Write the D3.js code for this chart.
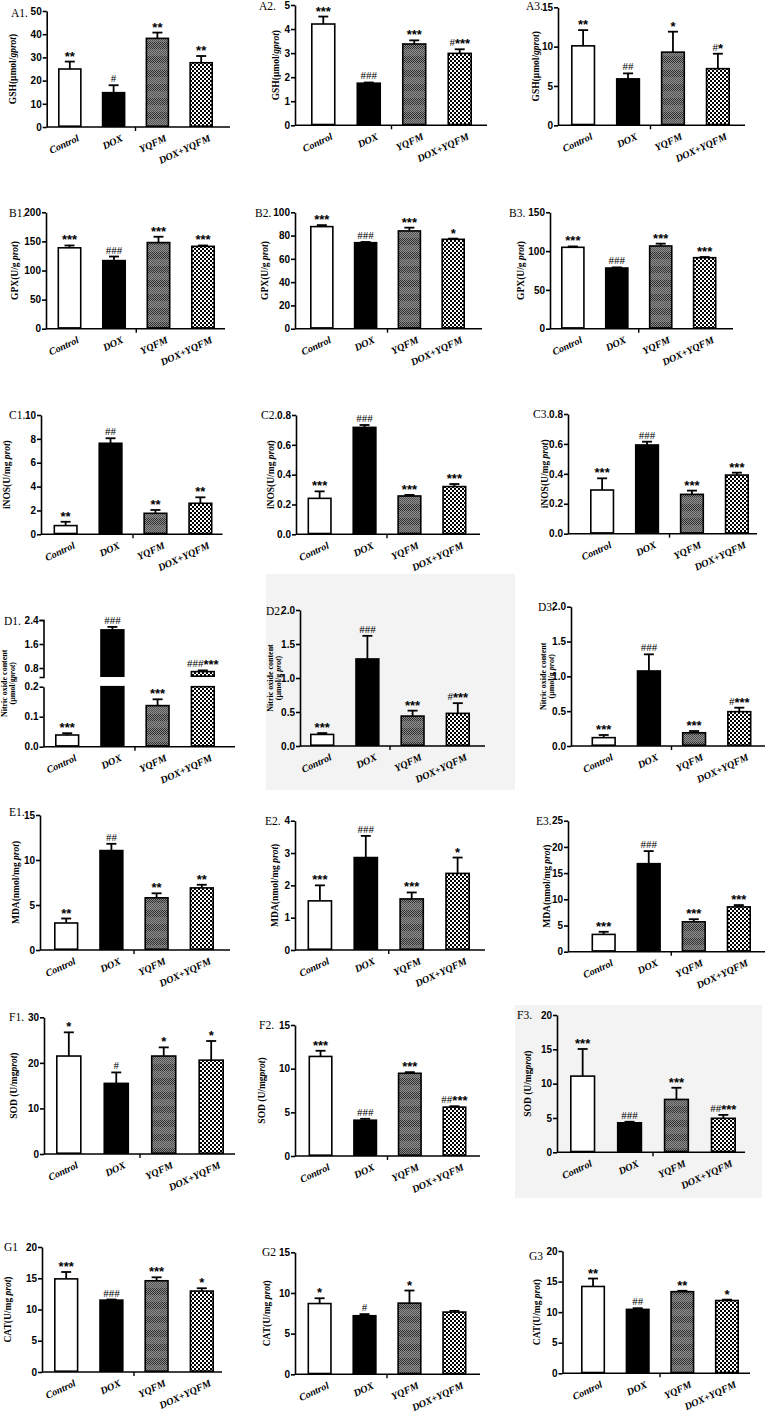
<!DOCTYPE html>
<html><head><meta charset="utf-8">
<script src="https://cdn.jsdelivr.net/npm/d3@7"></script>
<style>body{margin:0;background:#fff} svg{display:block}</style>
</head><body><svg id="c" width="781" height="1412"></svg>
<script>
// ---------- DATA ----------
const categories = ["Control", "DOX", "YQFM", "DOX+YQFM"];

const gshMean = [[25.0, 14.8, 38.2, 27.7], [4.21, 1.75, 3.38, 2.99], [10.1, 5.9, 9.3, 7.2]];
const gshErr  = [[28.2, 18.0, 40.7, 30.6], [4.52, 1.78, 3.53, 3.16], [12.1, 6.6, 11.9, 9.1]];
const gshSig  = [["**", "#", "**", "**"], ["***", "###", "***", "#***"], ["**", "##", "*", "#*"]];
const gshTicks = [[0, 10, 20, 30, 40, 50], [0, 1, 2, 3, 4, 5], [0, 5, 10, 15]];

const gpxMean = [[139, 117, 148, 141.5], [87.7, 73.9, 84, 76.8], [104.9, 78.2, 106.6, 91.5]];
const gpxErr  = [[143, 124, 158, 143], [89, 74.5, 86.8, 77.4], [106, 79, 109.6, 92.4]];
const gpxSig  = [["***", "###", "***", "***"], ["***", "###", "***", "*"], ["***", "###", "***", "***"]];
const gpxTicks = [[0, 50, 100, 150, 200], [0, 20, 40, 60, 80, 100], [0, 50, 100, 150]];

const inosMean = [[0.73, 7.63, 1.76, 2.6], [0.241, 0.717, 0.257, 0.32], [0.292, 0.593, 0.263, 0.392]];
const inosErr  = [[1.05, 8.05, 2.04, 3.1], [0.288, 0.733, 0.264, 0.337], [0.37, 0.615, 0.288, 0.408]];
const inosSig  = [["**", "##", "**", "**"], ["***", "###", "***", "***"], ["***", "###", "***", "***"]];
const inosTicks = [[0, 2, 4, 6, 8, 10], [0, 0.2, 0.4, 0.6, 0.8], [0, 0.2, 0.4, 0.6, 0.8]];

const noMean = [[0.039, 2.07, 0.137, 0.68], [0.17, 1.28, 0.44, 0.48], [0.12, 1.077, 0.19, 0.493]];
const noErr  = [[0.045, 2.17, 0.158, 0.72], [0.19, 1.62, 0.52, 0.63], [0.158, 1.316, 0.215, 0.55]];
const noSig  = [["***", "###", "***", "###***"], ["***", "###", "***", "#***"], ["***", "###", "***", "#***"]];
const noTicks = [[0, 0.1, 0.2, 0.8, 1.6, 2.4], [0, 0.5, 1.0, 1.5, 2.0], [0, 0.5, 1.0, 1.5, 2.0]];
const noBreak = [0.2, 0.5]; // broken axis gap in D1

const mdaMean = [[3.0, 11.05, 5.8, 6.9], [1.52, 2.86, 1.58, 2.37], [3.3, 16.8, 5.7, 8.55]];
const mdaErr  = [[3.5, 11.8, 6.3, 7.25], [2.0, 3.53, 1.78, 2.86], [3.8, 19.2, 6.2, 8.9]];
const mdaSig  = [["**", "##", "**", "**"], ["***", "###", "***", "*"], ["***", "###", "***", "***"]];
const mdaTicks = [[0, 5, 10, 15], [0, 1, 2, 3, 4], [0, 5, 10, 15, 20, 25]];

const sodMean = [[21.5, 15.5, 21.5, 20.6], [11.4, 4.1, 9.47, 5.6], [11.1, 4.3, 7.7, 4.95]];
const sodErr  = [[26.7, 17.9, 23.4, 24.8], [12.05, 4.26, 9.6, 5.7], [15.05, 4.45, 9.4, 5.45]];
const sodSig  = [["*", "#", "*", "*"], ["***", "###", "***", "##***"], ["***", "###", "***", "##***"]];
const sodTicks = [[0, 10, 20, 30], [0, 5, 10, 15], [0, 5, 10, 15, 20]];

const catMean = [[14.9, 11.5, 14.6, 12.95], [8.7, 7.2, 8.75, 7.65], [14.2, 10.45, 13.35, 11.9]];
const catErr  = [[16.0, 11.6, 15.15, 13.4], [9.35, 7.4, 10.3, 7.8], [15.5, 10.65, 13.5, 12.05]];
const catSig  = [["***", "###", "***", "*"], ["*", "#", "*", ""], ["**", "##", "**", "*"]];
const catTicks = [[0, 5, 10, 15, 20], [0, 5, 10, 15], [0, 5, 10, 15, 20]];

const panelNames = [["A1.", "A2.", "A3."], ["B1.", "B2.", "B3."], ["C1.", "C2.", "C3."],
  ["D1.", "D2.", "D3."], ["E1.", "E2.", "E3."], ["F1.", "F2.", "F3."], ["G1", "G2", "G3"]];

// y titles: [text, italic] segments, one list per line
const gshTitle = [[["GSH(μmol/", 0], ["gprot", 1], [")", 0]]];
const gpxTitle = [[["GPX(U/g ", 0], ["prot", 1], [")", 0]]];
const inosTitle = [[["iNOS(U/mg ", 0], ["prot", 1], [")", 0]]];
const noTitle1 = [[["Nitric oxide content", 0]], [["(μmol/g", 0], ["prot", 1], [")", 0]]];
const noTitle2 = [[["Nitric oxide content", 0]], [["(μmol/g ", 0], ["prot", 1], [")", 0]]];
const mdaTitle = [[["MDA(nmol/mg ", 0], ["prot", 1], [")", 0]]];
const sodTitle = [[["SOD (U/mg", 0], ["prot", 1], [")", 0]]];
const catTitle = [[["CAT(U/mg ", 0], ["prot", 1], [")", 0]]];

const measures = [
  {mean: gshMean, err: gshErr, sig: gshSig, ticks: gshTicks, titles: [gshTitle, gshTitle, gshTitle]},
  {mean: gpxMean, err: gpxErr, sig: gpxSig, ticks: gpxTicks, titles: [gpxTitle, gpxTitle, gpxTitle]},
  {mean: inosMean, err: inosErr, sig: inosSig, ticks: inosTicks, titles: [inosTitle, inosTitle, inosTitle]},
  {mean: noMean, err: noErr, sig: noSig, ticks: noTicks, titles: [noTitle1, noTitle2, noTitle2]},
  {mean: mdaMean, err: mdaErr, sig: mdaSig, ticks: mdaTicks, titles: [mdaTitle, mdaTitle, mdaTitle]},
  {mean: sodMean, err: sodErr, sig: sodSig, ticks: sodTicks, titles: [sodTitle, sodTitle, sodTitle]},
  {mean: catMean, err: catErr, sig: catSig, ticks: catTicks, titles: [catTitle, catTitle, catTitle]}
];

// ---------- LAYOUT (pixels) ----------
// L: y-axis x, R: x-axis end, b: bar span, yt: pixel of top tick, y0: pixel of zero,
// lx, ly: panel label, tx: y-title centre x
const layout = [
  [{L: 46.7, R: 230, b: [58, 213], yt: 11, y0: 127, lx: 11, ly: 17, tx: 13},
   {L: 295, R: 487, b: [311, 472], yt: 5, y0: 125.3, lx: 259, ly: 10, tx: 276},
   {L: 558, R: 745, b: [571, 730], yt: 7.3, y0: 125.3, lx: 526, ly: 10, tx: 536}],
  [{L: 46, R: 225, b: [57.5, 215], yt: 212.3, y0: 328.7, lx: 9, ly: 217, tx: 15},
   {L: 295, R: 482, b: [310, 465], yt: 212.3, y0: 328.7, lx: 255, ly: 217, tx: 265},
   {L: 550, R: 733, b: [561, 716.5], yt: 212.3, y0: 328.7, lx: 509, ly: 217, tx: 521}],
  [{L: 41, R: 222.5, b: [53.5, 212.5], yt: 415, y0: 534.3, lx: 9, ly: 419, tx: 7},
   {L: 296, R: 480, b: [307.5, 466.5], yt: 415, y0: 534.3, lx: 261, ly: 419, tx: 271},
   {L: 568, R: 757, b: [590, 749], yt: 414, y0: 533.7, lx: 533, ly: 418, tx: 545}],
  [{L: 43.5, R: 235, b: [55, 215], yt: 620, y0: 746.7, lx: 4, ly: 625, tx: 8, brk: [677, 686.7]},
   {L: 300, R: 485, b: [310, 470], yt: 610, y0: 746, lx: 266, ly: 615, tx: 274, bg: [266, 574, 249, 216]},
   {L: 571, R: 765, b: [591.5, 751.5], yt: 606.7, y0: 746, lx: 538, ly: 611, tx: 547}],
  [{L: 40, R: 230, b: [54, 214], yt: 815, y0: 950, lx: 9, ly: 816, tx: 16},
   {L: 295, R: 485, b: [307.5, 470], yt: 820.7, y0: 950, lx: 265, ly: 825, tx: 275},
   {L: 568, R: 765, b: [591.5, 751], yt: 820.7, y0: 951.7, lx: 536, ly: 825, tx: 547}],
  [{L: 44, R: 235, b: [56, 224], yt: 1017.3, y0: 1154, lx: 9, ly: 1021, tx: 14},
   {L: 295, R: 480, b: [308.5, 466.5], yt: 1025, y0: 1156, lx: 259, ly: 1029, tx: 262},
   {L: 557, R: 745, b: [570, 736], yt: 1015, y0: 1152.3, lx: 517, ly: 1019, tx: 528, bg: [515, 1005, 247, 193]}],
  [{L: 42, R: 222, b: [54, 214], yt: 1247, y0: 1372, lx: 4, ly: 1251, tx: 8},
   {L: 295, R: 480, b: [307.5, 466.5], yt: 1252.3, y0: 1374.3, lx: 262, ly: 1256, tx: 267},
   {L: 562.5, R: 750, b: [581, 739], yt: 1251, y0: 1373.3, lx: 529, ly: 1260, tx: 537}]
];

// ---------- STYLE ----------
const SERIF = "'Liberation Serif','Times New Roman',serif";
const NARROW = "'Liberation Sans Narrow','Arial Narrow','Liberation Sans',sans-serif";

const svg = d3.select("#c");
const defs = svg.append("defs");

// YQFM: dithered dark grey with horizontal banding
const pY = defs.append("pattern").attr("id", "pYQFM").attr("patternUnits", "userSpaceOnUse")
  .attr("width", 4).attr("height", 14);
pY.append("rect").attr("width", 4).attr("height", 14).attr("fill", "#8c8c8c");
for (let yy = 0; yy < 14; yy++) for (let xx = 0; xx < 4; xx++) {
  if ((xx + yy) % 2 === 0) pY.append("rect").attr("x", xx).attr("y", yy).attr("width", 1).attr("height", 1)
    .attr("fill", yy < 7 ? "#2e2e2e" : "#555");
}
// DOX+YQFM: black/white checkerboard
const pD = defs.append("pattern").attr("id", "pDY").attr("patternUnits", "userSpaceOnUse")
  .attr("width", 4).attr("height", 4);
pD.append("rect").attr("width", 4).attr("height", 4).attr("fill", "#000");
pD.append("rect").attr("x", 0).attr("y", 0).attr("width", 2).attr("height", 2).attr("fill", "#fff");
pD.append("rect").attr("x", 2).attr("y", 2).attr("width", 2).attr("height", 2).attr("fill", "#fff");

const fills = {"Control": "#fff", "DOX": "#000", "YQFM": "url(#pYQFM)", "DOX+YQFM": "url(#pDY)"};

// background boxes first
layout.forEach(row => row.forEach(p => {
  if (p.bg) svg.append("rect").attr("x", p.bg[0]).attr("y", p.bg[1]).attr("width", p.bg[2])
    .attr("height", p.bg[3]).attr("fill", "#f3f3f3");
}));

function styleAxis(g) {
  g.selectAll(".domain").attr("stroke", "#000").attr("stroke-width", 1.6);
  g.selectAll(".tick line").attr("stroke", "#000").attr("stroke-width", 1.6);
  g.selectAll(".tick text").attr("font-family", NARROW).attr("font-weight", "bold")
    .attr("font-size", 10).attr("fill", "#000");
}

function drawPanel(m, r, c) {
  const p = layout[r][c];
  const means = m.mean[c], errs = m.err[c], sigs = m.sig[c], ticks = m.ticks[c];
  const g = svg.append("g");
  const fmt = ticks.some(t => !Number.isInteger(t)) ? d3.format(".1f") : d3.format("d");
  const tMax = d3.max(ticks);

  let yf, y0px = p.y0;
  if (p.brk) {
    const yUp = d3.scaleLinear().domain([noBreak[1], tMax]).range([p.brk[0], p.yt]);
    const yLo = d3.scaleLinear().domain([0, noBreak[0]]).range([p.y0, p.brk[1]]);
    yf = v => v > noBreak[0] ? yUp(v) : yLo(v);
    const a1 = g.append("g").attr("transform", `translate(${p.L},0)`)
      .call(d3.axisLeft(yUp).tickValues(ticks.filter(t => t > noBreak[0])).tickFormat(fmt)
        .tickSize(4).tickSizeOuter(4).tickPadding(1));
    styleAxis(a1);
    const a2 = g.append("g").attr("transform", `translate(${p.L},0)`)
      .call(d3.axisLeft(yLo).tickValues(ticks.filter(t => t <= noBreak[0])).tickFormat(fmt)
        .tickSize(4).tickSizeOuter(0).tickPadding(1));
    styleAxis(a2);
  } else {
    const y = d3.scaleLinear().domain([0, tMax]).range([p.y0, p.yt]);
    yf = y;
    const a = g.append("g").attr("transform", `translate(${p.L},0)`)
      .call(d3.axisLeft(y).tickValues(ticks).tickFormat(fmt).tickSize(4).tickSizeOuter(0).tickPadding(1));
    styleAxis(a);
  }

  const x = d3.scaleBand().domain(categories).range(p.b).paddingInner(0.46).paddingOuter(0);
  const bw = x.bandwidth();

  // x axis line + centre tick
  g.append("line").attr("x1", p.L).attr("x2", p.R).attr("y1", y0px).attr("y2", y0px)
    .attr("stroke", "#000").attr("stroke-width", 1.6);
  const midX = (x("DOX") + bw + x("YQFM")) / 2;
  g.append("line").attr("x1", midX).attr("x2", midX).attr("y1", y0px).attr("y2", y0px + 4)
    .attr("stroke", "#000").attr("stroke-width", 1.4);

  // bars
  categories.forEach((cat, i) => {
    const v = means[i];
    const segs = [];
    if (p.brk && v > noBreak[0]) {
      segs.push([yf(v), p.brk[0]]);
      segs.push([p.brk[1], y0px]);
    } else segs.push([yf(v), y0px]);
    segs.forEach(s => {
      g.append("rect").attr("x", x(cat) + 0.8).attr("y", s[0]).attr("width", bw - 1.6)
        .attr("height", Math.max(0, s[1] - s[0] - 0.8))
        .attr("fill", fills[cat]).attr("stroke", "#000").attr("stroke-width", 1.6);
    });
    // error bar
    const cx = x(cat) + bw / 2;
    const yE = yf(errs[i]);
    g.append("line").attr("x1", cx).attr("x2", cx).attr("y1", yf(v)).attr("y2", yE)
      .attr("stroke", "#000").attr("stroke-width", 1.8);
    g.append("line").attr("x1", cx - 5).attr("x2", cx + 5).attr("y1", yE).attr("y2", yE)
      .attr("stroke", "#000").attr("stroke-width", 1.8);
    // significance
    const s = sigs[i];
    if (s) {
      const t = g.append("text").attr("x", cx).attr("y", yE - 3).attr("text-anchor", "middle");
      const hashes = s.replace(/\*/g, ""), stars = s.replace(/#/g, "");
      if (hashes) t.append("tspan").attr("font-family", SERIF).attr("font-size", 11).text(hashes);
      if (stars) t.append("tspan").attr("font-family", NARROW).attr("font-weight", "bold")
        .attr("font-size", 13).attr("dy", 2).text(stars);
    }
    // category label
    g.append("text").attr("transform", `translate(${cx + 7},${y0px + 7}) rotate(-25)`)
      .attr("text-anchor", "end").attr("dominant-baseline", "hanging")
      .attr("font-family", SERIF).attr("font-weight", "bold").attr("font-style", "italic")
      .attr("font-size", 10).text(cat);
  });

  // panel label
  g.append("text").attr("x", p.lx).attr("y", p.ly).attr("font-family", SERIF)
    .attr("font-size", 11.5).text(panelNames[r][c]);

  // y title
  const title = m.titles[c];
  const midY = (p.y0 + p.yt) / 2;
  title.forEach((line, li) => {
    const off = title.length > 1 ? (li - (title.length - 1) / 2) * 8.5 : 0;
    const t = g.append("text").attr("transform", `translate(${p.tx + off},${midY}) rotate(-90)`)
      .attr("text-anchor", "middle").attr("dominant-baseline", "central")
      .attr("font-family", SERIF).attr("font-weight", "bold")
      .attr("font-size", title.length > 1 ? 8 : 9.5);
    line.forEach(seg => t.append("tspan").attr("font-style", seg[1] ? "italic" : "normal").text(seg[0]));
  });
}

measures.forEach((m, r) => [0, 1, 2].forEach(c => drawPanel(m, r, c)));
</script></body></html>
